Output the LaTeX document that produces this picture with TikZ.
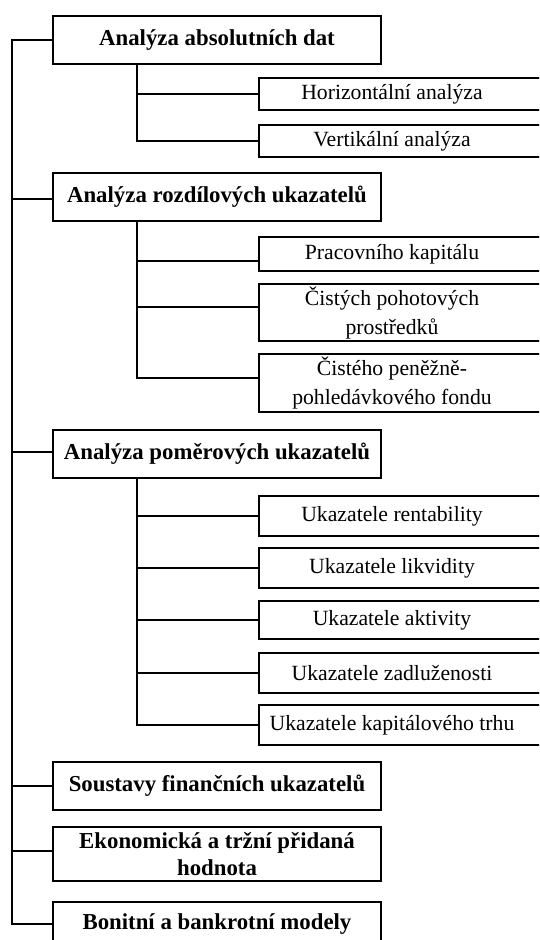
\documentclass[tikz,border=0pt]{standalone}
\usepackage{fontspec}
\setmainfont{Liberation Serif}
\begin{document}
\begin{tikzpicture}[x=1pt,y=-1pt,
  conn/.style={line width=2pt,line cap=rect},
  boxline/.style={line width=2pt},
  mainbox/.style={draw,line width=2pt,minimum width=328pt,inner sep=0pt,align=center,
    font=\fontsize{22.8}{27}\selectfont\bfseries},
  subbox/.style={minimum width=266pt,inner sep=0pt,align=center,
    font=\fontsize{21.7}{29}\selectfont}]
\useasboundingbox (0,0) rectangle (539,940);
\begin{scope}
\clip (0,0) rectangle (539,940);
% main boxes
\node[mainbox,minimum height=48pt] (a1) at (217,40) {Analýza absolutních dat};
\node[mainbox,minimum height=48pt] (a2) at (217,197) {Analýza rozdílových ukazatelů};
\node[mainbox,minimum height=48pt] (a3) at (217,454) {Analýza poměrových ukazatelů};
\node[mainbox,minimum height=48pt] (a4) at (217,786) {Soustavy finančních ukazatelů};
\node[mainbox,minimum height=54pt] (a5) at (217,854) {Ekonomická a tržní přidaná\\hodnota};
\node[mainbox,minimum height=44pt] (a6) at (217,924) {Bonitní a bankrotní modely};
% sub boxes
\node[subbox,minimum height=32pt] (h1) at (392,94) {Horizontální analýza};
\node[subbox,minimum height=32pt] (h2) at (392,141) {Vertikální analýza};
\node[subbox,minimum height=34pt] (r1) at (392,254) {Pracovního kapitálu};
\node[subbox,minimum height=57pt] (r2) at (392,312.5) {Čistých pohotových\\prostředků};
\node[subbox,minimum height=58pt] (r3) at (392,383) {Čistého peněžně-\\pohledávkového fondu};
\node[subbox,minimum height=40pt] (p1) at (392,516) {Ukazatele rentability};
\node[subbox,minimum height=40pt] (p2) at (392,568) {Ukazatele likvidity};
\node[subbox,minimum height=38pt] (p3) at (392,620) {Ukazatele aktivity};
\node[subbox,minimum height=40pt] (p4) at (392,673) {Ukazatele zadluženosti};
\node[subbox,minimum height=40pt] (p5) at (392,725) {Ukazatele kapitálového trhu};
\foreach \n in {h1,h2,r1,r2,r3,p1,p2,p3,p4,p5}
  \draw[boxline] (\n.north west) rectangle ([xshift=60pt]\n.south east);
% main trunk
\coordinate (tt) at (12,40);
\draw[conn] (a1.west) -- (tt) |- (a6.west);
\draw[conn] (tt |- 0,199) -- (a2.west |- 0,199);
\draw[conn] (tt |- 0,452) -- (a3.west |- 0,452);
\draw[conn] (tt |- 0,786) -- (a4.west |- 0,786);
\draw[conn] (tt |- 0,851) -- (a5.west |- 0,851);
% sub trunks
\coordinate (s1) at ([xshift=-80pt]a1.south);
\draw[conn] (s1) |- (h2.west);
\draw[conn] (s1 |- h1.west) -- (h1.west);
\coordinate (s2) at ([xshift=-80pt]a2.south);
\draw[conn] (s2) |- (r3.west |- 0,378);
\draw[conn] (s2 |- 0,261) -- (r1.west |- 0,261);
\draw[conn] (s2 |- 0,307) -- (r2.west |- 0,307);
\coordinate (s3) at ([xshift=-80pt]a3.south);
\draw[conn] (s3) |- (p5.west);
\foreach \n in {p1,p2,p3,p4}
  \draw[conn] (s3 |- \n.west) -- (\n.west);
\end{scope}
\end{tikzpicture}
\end{document}
